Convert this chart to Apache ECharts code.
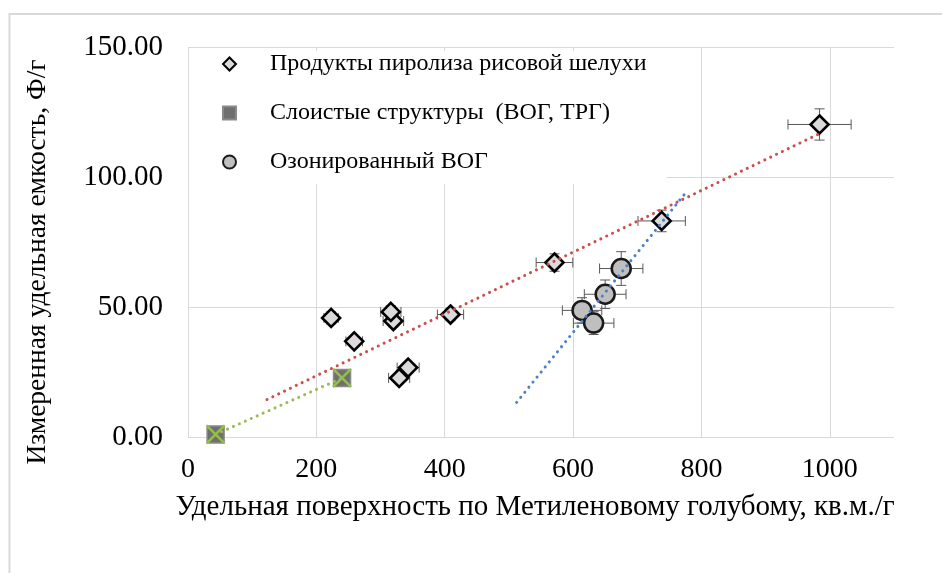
<!DOCTYPE html>
<html>
<head>
<meta charset="utf-8">
<script src="https://cdn.jsdelivr.net/npm/echarts@6/dist/echarts.min.js"></script>
<style>
html,body{margin:0;padding:0;background:#fff;}
#chart{width:942px;height:573px;}
</style>
</head>
<body>
<div id="chart"></div>
<script>
// ---- data ----
const seriesNames = ['Продукты пиролиза рисовой шелухи', 'Слоистые структуры  (ВОГ, ТРГ)', 'Озонированный ВОГ'];
const xAxisTitle = 'Удельная поверхность по Метиленовому голубому, кв.м./г';
const yAxisTitle = 'Измеренная удельная емкость, Ф/г';
const xTicks = [0, 200, 400, 600, 800, 1000];
const yTicks = [0, 50, 100, 150];

const riceX = [223, 259, 320, 316, 343, 329, 409, 571, 738, 984];
const riceY = [45.8, 36.8, 44.6, 48.1, 26.7, 22.7, 47.1, 67.1, 83.1, 120.2];
const riceErrPctX = 5;
const riceErrPctY = 5;

const layeredX = [43, 240];
const layeredY = [1.0, 22.7];

const ozoneX = [614, 632, 650, 675];
const ozoneY = [48.7, 43.8, 54.9, 64.8];
const ozoneErrPctX = 5;
const ozoneErrPctY = 10;

const riceTrendX = [123, 984];
const riceTrendY = [14.4, 116.7];
const layeredTrendX = [43, 240];
const layeredTrendY = [1.0, 22.7];
const ozoneTrendX = [512, 775];
const ozoneTrendY = [13.3, 93.8];

// ---- build ----
const FONT = 'Liberation Serif';
const pts = (xs, ys) => xs.map((x, i) => [x, ys[i]]);
const errPts = (xs, ys, px, py) => xs.map((x, i) => [x, ys[i], x * px / 100, ys[i] * py / 100]);

function errRender(params, api) {
  const x = api.value(0), y = api.value(1), ex = api.value(2), ey = api.value(3);
  const c = api.coord([x, y]);
  const l = api.coord([x - ex, y]), r = api.coord([x + ex, y]);
  const t = api.coord([x, y + ey]), b = api.coord([x, y - ey]);
  const cap = 5;
  const style = { stroke: '#595959', lineWidth: 1 };
  const ln = (x1, y1, x2, y2) => ({ type: 'line', shape: { x1, y1, x2, y2 }, style });
  return {
    type: 'group',
    children: [
      ln(l[0], c[1], r[0], c[1]),
      ln(l[0], c[1] - cap, l[0], c[1] + cap),
      ln(r[0], c[1] - cap, r[0], c[1] + cap),
      ln(c[0], t[1], c[0], b[1]),
      ln(c[0] - cap, t[1], c[0] + cap, t[1]),
      ln(c[0] - cap, b[1], c[0] + cap, b[1])
    ]
  };
}

const dotted = (color) => ({ color, width: 3, type: [0.1, 6.4], cap: 'round' });

const chart = echarts.init(document.getElementById('chart'));
chart.setOption({
  backgroundColor: '#fff',
  animation: false,
  textStyle: { fontFamily: FONT },
  graphic: [
    { type: 'rect', z: -10, silent: true, shape: { x: 9.5, y: 14, width: 1000, height: 1000 },
      style: { fill: 'none', stroke: '#d9d9d9', lineWidth: 2 } },
    { type: 'text', x: 38, y: 262, rotation: Math.PI / 2,
      style: { text: yAxisTitle, font: '27.5px "Liberation Serif"', fill: '#000', align: 'center', verticalAlign: 'middle' } }
  ],
  grid: { left: 188, top: 47, right: 48, bottom: 136, containLabel: false },
  legend: {
    orient: 'vertical', left: 189, top: 51,
    data: seriesNames,
    backgroundColor: '#fff',
    padding: [1, 20, 10, 33],
    itemWidth: 13, itemHeight: 13, itemGap: 25,
    textStyle: { fontFamily: FONT, fontSize: 24, color: '#000', padding: [0, 0, 0, 29] },
    selectedMode: false
  },
  xAxis: {
    type: 'value', min: 0, max: 1100, interval: 200,
    name: xAxisTitle, nameLocation: 'middle', nameGap: 56,
    nameTextStyle: { fontFamily: FONT, fontSize: 29, color: '#000', padding: [0, 12, 0, 0] },
    axisLine: { show: false }, axisTick: { show: false },
    axisLabel: { fontFamily: FONT, fontSize: 28, color: '#000', margin: 19, showMaxLabel: false,
      formatter: v => xTicks.includes(v) ? String(v) : '' },
    splitLine: { show: true, showMaxLine: false, lineStyle: { color: '#d9d9d9', width: 1 } }
  },
  yAxis: {
    type: 'value', min: 0, max: 150, interval: 50,
    axisLine: { show: false }, axisTick: { show: false },
    axisLabel: { fontFamily: FONT, fontSize: 29, color: '#000', margin: 25,
      formatter: v => yTicks.includes(v) ? v.toFixed(2) : '' },
    splitLine: { show: true, lineStyle: { color: '#d9d9d9', width: 1 } }
  },
  series: [
    { type: 'custom', name: 'riceErr', renderItem: errRender, z: 2,
      data: errPts(riceX, riceY, riceErrPctX, riceErrPctY), silent: true },
    { type: 'custom', name: 'ozoneErr', renderItem: errRender, z: 2,
      data: errPts(ozoneX, ozoneY, ozoneErrPctX, ozoneErrPctY), silent: true },
    { type: 'scatter', name: seriesNames[0], symbol: 'diamond', symbolSize: 18, z: 3,
      itemStyle: { color: '#dadada', borderColor: '#000', borderWidth: 2.6, opacity: 1 },
      data: pts(riceX, riceY) },
    { type: 'scatter', name: seriesNames[1], symbol: 'rect', symbolSize: 17, z: 3,
      itemStyle: { color: '#6f6f6f', borderColor: '#8a8a8a', borderWidth: 1.5, opacity: 1 },
      data: pts(layeredX, layeredY) },
    { type: 'scatter', name: 'layeredX', symbol: 'path://M0,0L10,10M10,0L0,10', symbolSize: 18, z: 4,
      itemStyle: { color: 'none', borderColor: '#92c04a', borderWidth: 2.5, opacity: 1 },
      data: pts(layeredX, layeredY), silent: true },
    { type: 'scatter', name: seriesNames[2], symbol: 'circle', symbolSize: 19, z: 3,
      itemStyle: { color: '#bfbfbf', borderColor: '#1a1a1a', borderWidth: 2.5, opacity: 1 },
      data: pts(ozoneX, ozoneY) },
    { type: 'line', name: 'riceTrend', showSymbol: false, z: 5, silent: true,
      lineStyle: dotted('#c9504d'), data: pts(riceTrendX, riceTrendY) },
    { type: 'line', name: 'layeredTrend', showSymbol: false, z: 5, silent: true,
      lineStyle: dotted('#9bbb59'), data: pts(layeredTrendX, layeredTrendY) },
    { type: 'line', name: 'ozoneTrend', showSymbol: false, z: 5, silent: true,
      lineStyle: dotted('#4a80c8'), data: pts(ozoneTrendX, ozoneTrendY) }
  ]
});
</script>
</body>
</html>
